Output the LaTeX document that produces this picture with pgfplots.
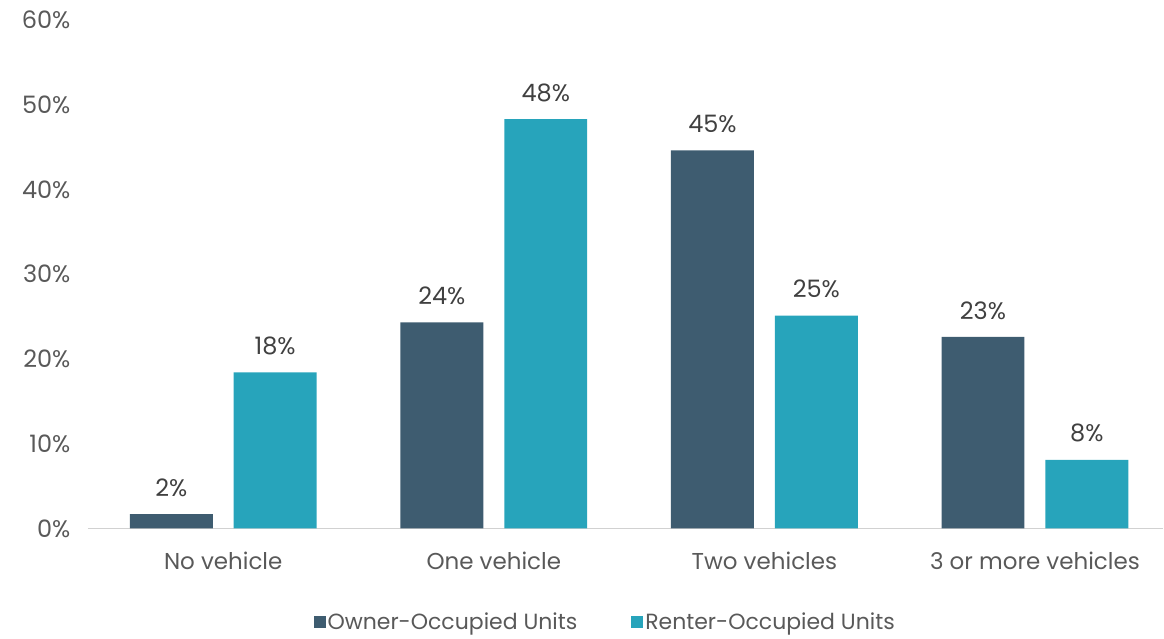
\documentclass[border=0pt]{standalone}
\usepackage{pgfplots}
\pgfplotsset{compat=1.18}
\usepackage{fontspec}
\setmainfont{Poppins}
\definecolor{owner}{HTML}{3E5C70}
\definecolor{renter}{HTML}{27A4BB}
\definecolor{ticktext}{HTML}{595959}
\definecolor{labeltext}{HTML}{404040}
\begin{document}
\begin{tikzpicture}
\begin{axis}[
  scale only axis,
  width=1076pt, height=509pt,
  ybar,
  xmin=-0.5, xmax=3.474,
  ymin=0, ymax=60,
  xtick={0,1,2,3},
  xticklabels={No vehicle, One vehicle, Two vehicles, 3 or more vehicles},
  ytick={0,10,20,30,40,50,60},
  yticklabel={\pgfmathprintnumber{\tick}\%},
  /pgf/number format/assume math mode=true,
  major tick length=0pt,
  axis x line=bottom,
  axis y line=left,
  y axis line style={draw=none},
  x axis line style={draw=black!18, line width=1.6pt, -},
  xticklabel style={font=\fontsize{23}{26}\selectfont, text=ticktext, yshift=-20pt},
  yticklabel style={font=\fontsize{24}{27}\selectfont, text=ticktext, xshift=-14pt},
  bar width=0.3066,
  nodes near coords={\pgfmathprintnumber[fixed,precision=0]{\pgfplotspointmeta}\%},
  every node near coord/.append style={font=\fontsize{24}{27}\selectfont, text=labeltext, yshift=14pt},
  legend style={at={(0.481,-0.183)}, anchor=center, draw=none, legend columns=2,
    font=\fontsize{22}{25}\selectfont, text=ticktext,
    /tikz/every even column/.append style={column sep=52pt}},
  legend image code/.code={\fill[#1] (0pt,-6pt) rectangle (12pt,6pt);},
  clip=false,
]
\addplot[bar shift=-0.192, fill=owner, draw=none] coordinates {(0,1.7) (1,24.3) (2,44.6) (3,22.6)};
\addplot[bar shift=0.192, fill=renter, draw=none] coordinates {(0,18.4) (1,48.3) (2,25.1) (3,8.1)};
\legend{Owner-Occupied Units, Renter-Occupied Units}
\path (axis description cs:-0.0818,1.039) rectangle (axis description cs:1.0,-0.216);
\end{axis}
\end{tikzpicture}
\end{document}
